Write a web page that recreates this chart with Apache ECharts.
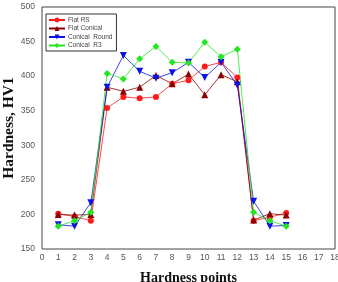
<!DOCTYPE html>
<html>
<head>
<meta charset="utf-8">
<script src="https://cdn.jsdelivr.net/npm/echarts@6/dist/echarts.min.js"></script>
<style>
  html, body { margin: 0; padding: 0; background: #fff; }
  #chart { width: 338px; height: 282px; }
</style>
</head>
<body>
<div id="chart"></div>
<script>
// hardness profile, points 1..15
const points = [1, 2, 3, 4, 5, 6, 7, 8, 9, 10, 11, 12, 13, 14, 15];
const flatRS = [201, 197, 191, 354, 370, 368, 370, 389, 394, 414, 420, 398, 191, 196, 202];
const flatConical = [200, 199, 200, 384, 378, 384, 401, 389, 403, 373, 402, 392, 192, 201, 199];
const conicalRound = [185, 183, 217, 384, 430, 407, 397, 405, 420, 398, 420, 387, 219, 183, 184];
const conicalR3 = [183, 191, 203, 404, 396, 425, 443, 420, 419, 449, 428, 439, 203, 191, 183];

function pairs(vals) {
  return points.map((p, i) => [p, vals[i]]);
}

function line(name, vals, color, symbol, size, rotate) {
  return {
    name: name,
    type: "line",
    data: pairs(vals),
    symbol: symbol,
    symbolSize: size,
    symbolRotate: rotate || 0,
    itemStyle: { color: color },
    lineStyle: { color: color, width: 0.8 },
  };
}

const chart = echarts.init(document.getElementById("chart"));
chart.setOption({
  animation: false,
  grid: {
    left: 42,
    right: 3,
    top: 7,
    bottom: 33,
    outerBoundsMode: "none",
    show: true,
    borderColor: "#444",
    borderWidth: 1,
  },
  legend: {
    left: 46,
    top: 14,
    orient: "vertical",
    itemGap: 0.5,
    itemWidth: 16,
    itemHeight: 6,
    padding: [2, 4, 1.5, 2],
    borderColor: "#333",
    borderWidth: 1,
    textStyle: { fontSize: 6.5, lineHeight: 8, color: "#444", fontFamily: "Liberation Sans", padding: [0, 0, 0, -2] },
  },
  xAxis: {
    type: "value",
    min: 0,
    max: 18,
    interval: 1,
    axisLine: { show: false },
    axisTick: { show: false },
    splitLine: { show: false },
    axisLabel: { fontSize: 8.5, color: "#555", margin: 4, fontFamily: "Liberation Sans" },
    name: "Hardness points",
    nameLocation: "middle",
    nameGap: 22,
    nameMoveOverlap: false,
    nameTextStyle: { fontFamily: "Liberation Serif", fontWeight: "bold", fontSize: 14, color: "#111" },
  },
  yAxis: {
    type: "value",
    min: 150,
    max: 500,
    interval: 50,
    axisLine: { show: false },
    axisTick: { show: false },
    splitLine: { show: false },
    axisLabel: { fontSize: 8.5, color: "#555", margin: 7, fontFamily: "Liberation Sans" },
    name: "Hardness, HV1",
    nameLocation: "middle",
    nameGap: 25.5,
    nameMoveOverlap: false,
    nameTextStyle: { fontFamily: "Liberation Serif", fontWeight: "bold", fontSize: 15.5, color: "#111" },
  },
  series: [
    line("Flat RS", flatRS, "#ff1a1a", "circle", 6),
    line("Flat Conical", flatConical, "#8b0000", "triangle", 7),
    line("Conical  Round", conicalRound, "#0a14e6", "triangle", 7, 180),
    line("Conical  R3", conicalR3, "#22e622", "diamond", 7),
  ],
});
</script>
</body>
</html>
